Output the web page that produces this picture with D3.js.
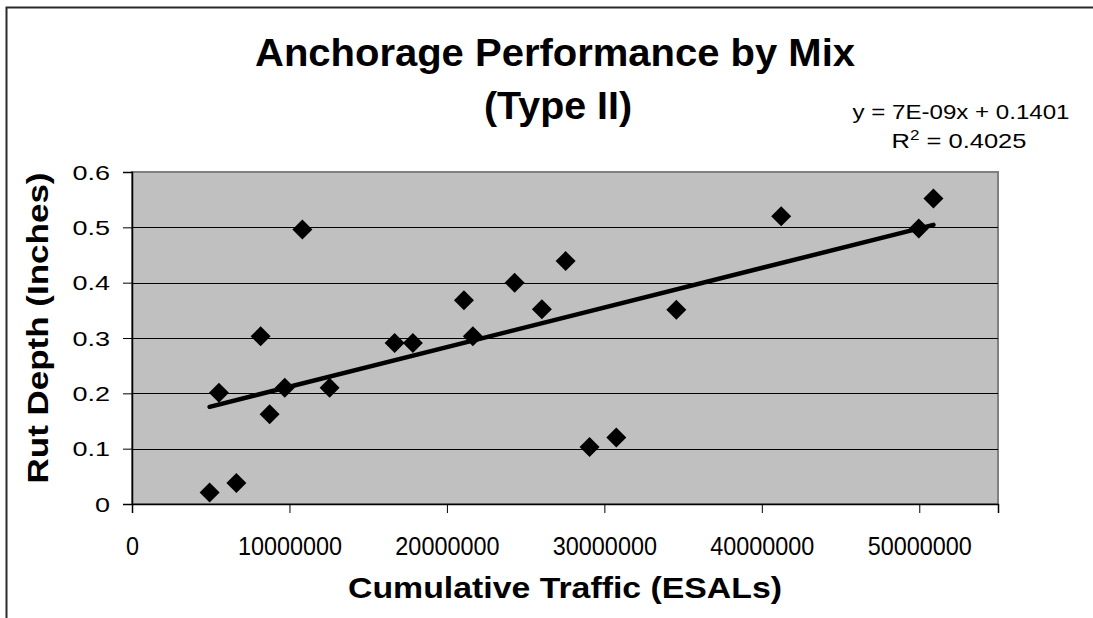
<!DOCTYPE html>
<html>
<head>
<meta charset="utf-8">
<script src="https://cdn.jsdelivr.net/npm/d3@7"></script>
<style>
  body { margin: 0; background: #fff; }
  text { font-family: "Liberation Sans", Arial, sans-serif; fill: #000; }
</style>
</head>
<body>
<script>
// cumulative traffic (ESALs) and rut depth (inches)
var traffic = [4930000, 6630000, 5520000, 8170000, 8740000, 9700000, 10820000, 12550000,
    16680000, 17840000, 21080000, 21650000, 24300000, 26030000, 27540000, 29060000,
    30760000, 34570000, 41230000, 49970000, 50900000];
var rutDepth = [0.021, 0.038, 0.201, 0.303, 0.162, 0.210, 0.496, 0.210,
    0.291, 0.291, 0.368, 0.303, 0.400, 0.352, 0.439, 0.103,
    0.120, 0.351, 0.520, 0.498, 0.552];
var xTicks = [0, 10000000, 20000000, 30000000, 40000000, 50000000];
var yTicks = [0, 0.1, 0.2, 0.3, 0.4, 0.5, 0.6];

var width = 1093, height = 618;
var plot = { left: 132, top: 172, right: 998, bottom: 504 };

var svg = d3.select("body")
    .append("svg")
    .attr("width", width)
    .attr("height", height);

// stretch or squeeze a text to the width it has in the original
function fit(sel, factor) {
    sel.each(function () {
        var len = this.getComputedTextLength();
        d3.select(this)
            .attr("textLength", len * factor)
            .attr("lengthAdjust", "spacingAndGlyphs");
    });
}

// chart border (only top and left are visible in the frame)
svg.append("rect")
    .attr("x", 6.5).attr("y", 7.5)
    .attr("width", 1200).attr("height", 700)
    .attr("fill", "none")
    .attr("stroke", "#2a2a2a")
    .attr("stroke-width", 2);

var x = d3.scaleLinear().domain([0, 55000000]).range([plot.left, plot.right]);
var y = d3.scaleLinear().domain([0, 0.6]).range([plot.bottom, plot.top]);

// plot area
svg.append("rect")
    .attr("x", plot.left).attr("y", plot.top)
    .attr("width", plot.right - plot.left).attr("height", plot.bottom - plot.top)
    .attr("fill", "#c0c0c0")
    .attr("stroke", "#808080")
    .attr("stroke-width", 2);

// gridlines
svg.append("g")
    .selectAll("line")
    .data(yTicks.slice(1, -1))
    .enter()
    .append("line")
    .attr("x1", plot.left).attr("x2", plot.right)
    .attr("y1", d => Math.round(y(d)) + 0.5).attr("y2", d => Math.round(y(d)) + 0.5)
    .attr("stroke", "#000")
    .attr("stroke-width", 1);

// axes
var xAxis = svg.append("g")
    .attr("transform", `translate(0,${plot.bottom})`)
    .call(d3.axisBottom(x).tickValues(xTicks).tickSize(9).tickFormat(d3.format("d")));
var yAxis = svg.append("g")
    .attr("transform", `translate(${plot.left},0)`)
    .call(d3.axisLeft(y).tickValues(yTicks).tickSize(9).tickPadding(13)
        .tickFormat(d => d === 0 ? "0" : d3.format(".1f")(d)));

[xAxis, yAxis].forEach(g => {
    g.select(".domain").attr("stroke", "#000").attr("stroke-width", 1.5);
    g.selectAll(".tick line").attr("stroke", "#000");
    g.selectAll(".tick text")
        .attr("fill", "#000")
        .style("font-family", "'Liberation Sans', Arial, sans-serif");
});
xAxis.selectAll(".tick text")
    .attr("y", 51).attr("dy", 0)
    .style("font-size", "26px")
    .call(fit, 0.9);
yAxis.selectAll(".tick text")
    .attr("dy", "0.36em")
    .style("font-size", "20px")
    .call(fit, 1.35);

// linear trendline, least squares fit of the points
var mx = d3.mean(traffic), my = d3.mean(rutDepth);
var sxy = d3.sum(traffic, (v, i) => (v - mx) * (rutDepth[i] - my));
var sxx = d3.sum(traffic, v => (v - mx) * (v - mx));
var slope = sxy / sxx, intercept = my - slope * mx;
var xExt = d3.extent(traffic);

svg.append("path")
    .datum(xExt)
    .attr("d", d3.line().x(d => x(d)).y(d => y(slope * d + intercept)))
    .attr("stroke", "#000")
    .attr("stroke-width", 4.5)
    .attr("stroke-linecap", "round")
    .attr("fill", "none");

// diamond markers
svg.append("g")
    .selectAll("path")
    .data(traffic)
    .enter()
    .append("path")
    .attr("d", d3.symbol(d3.symbolSquare, 200))
    .attr("transform", (d, i) => `translate(${x(d)},${y(rutDepth[i])}) rotate(45)`)
    .attr("fill", "#000");

// titles
svg.append("text")
    .attr("x", 555).attr("y", 66)
    .attr("text-anchor", "middle")
    .style("font-size", "38px").style("font-weight", "bold")
    .attr("textLength", 600).attr("lengthAdjust", "spacingAndGlyphs")
    .text("Anchorage Performance by Mix");
svg.append("text")
    .attr("x", 558).attr("y", 119)
    .attr("text-anchor", "middle")
    .style("font-size", "38px").style("font-weight", "bold")
    .attr("textLength", 148).attr("lengthAdjust", "spacingAndGlyphs")
    .text("(Type II)");

svg.append("text")
    .attr("x", 565).attr("y", 598)
    .attr("text-anchor", "middle")
    .style("font-size", "30px").style("font-weight", "bold")
    .attr("textLength", 434).attr("lengthAdjust", "spacingAndGlyphs")
    .text("Cumulative Traffic (ESALs)");

svg.append("text")
    .attr("transform", "translate(48,328) rotate(-90)")
    .attr("text-anchor", "middle")
    .style("font-size", "30px").style("font-weight", "bold")
    .attr("textLength", 311).attr("lengthAdjust", "spacingAndGlyphs")
    .text("Rut Depth (Inches)");

// trendline equation
svg.append("text")
    .attr("x", 961).attr("y", 119)
    .attr("text-anchor", "middle")
    .style("font-size", "21px")
    .attr("textLength", 217).attr("lengthAdjust", "spacingAndGlyphs")
    .text("y = 7E-09x + 0.1401");
var r2 = svg.append("text")
    .attr("x", 959).attr("y", 148)
    .attr("text-anchor", "middle")
    .style("font-size", "21px")
    .attr("textLength", 135).attr("lengthAdjust", "spacingAndGlyphs");
r2.append("tspan").text("R");
r2.append("tspan").attr("dy", -8).style("font-size", "14px").text("2");
r2.append("tspan").attr("dy", 8).text(" = 0.4025");
</script>
</body>
</html>
